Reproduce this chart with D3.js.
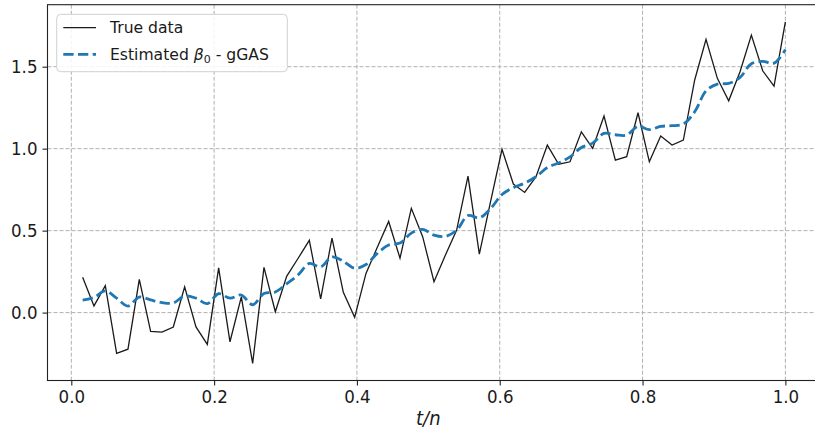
<!DOCTYPE html>
<html>
<head>
<meta charset="utf-8">
<script src="https://cdn.jsdelivr.net/npm/d3@7"></script>
<style>
  body { margin: 0; background: #fff; }
  svg { display: block; }
</style>
</head>
<body>
<svg id="chart" width="815" height="432"></svg>
<script>
// values, t = 1..63, x = t/n
const trueData = [
  0.215, 0.041, 0.164, -0.249, -0.223, 0.203, -0.115, -0.119, -0.088, 0.157,
  -0.087, -0.194, 0.273, -0.178, 0.096, -0.310, 0.276, 0.005, 0.221, 0.330,
  0.441, 0.083, 0.455, 0.124, -0.029, 0.239, 0.398, 0.556, 0.332, 0.636,
  0.463, 0.188, 0.350, 0.503, 0.833, 0.357, 0.680, 0.996, 0.784, 0.733,
  0.829, 1.022, 0.905, 0.920, 1.103, 1.002, 1.199, 0.930, 0.951, 1.219,
  0.920, 1.077, 1.022, 1.052, 1.419, 1.667, 1.429, 1.292, 1.469, 1.693,
  1.475, 1.382, 1.774
];
const estimated = [
  0.076, 0.092, 0.132, 0.088, 0.040, 0.095, 0.077, 0.061, 0.059, 0.101,
  0.088, 0.055, 0.115, 0.088, 0.107, 0.048, 0.117, 0.126, 0.175, 0.229,
  0.300, 0.279, 0.340, 0.313, 0.270, 0.293, 0.361, 0.412, 0.424, 0.485,
  0.508, 0.473, 0.465, 0.503, 0.592, 0.578, 0.635, 0.720, 0.762, 0.790,
  0.829, 0.885, 0.913, 0.950, 1.007, 1.034, 1.093, 1.085, 1.083, 1.136,
  1.116, 1.136, 1.140, 1.150, 1.225, 1.352, 1.394, 1.398, 1.434, 1.518,
  1.532, 1.522, 1.603
];
const xTicks = [0.0, 0.2, 0.4, 0.6, 0.8, 1.0];
const yTicks = [0.0, 0.5, 1.0, 1.5];
const seriesNames = ["True data", "Estimated β0 - gGAS"];

const n = trueData.length;
const tn = trueData.map((d, i) => (i + 1) / n);

const svg = d3.select("#chart");

// matplotlib style 5% margins around the data
const xExt = d3.extent(tn);
const yExt = d3.extent(trueData.concat(estimated));
const xPad = (xExt[1] - xExt[0]) * 0.05;
const yPad = (yExt[1] - yExt[0]) * 0.05;

const x = d3.scaleLinear()
  .domain([xExt[0] - xPad, xExt[1] + xPad])
  .range([47.5, 820.5]);
const y = d3.scaleLinear()
  .domain([yExt[0] - yPad, yExt[1] + yPad])
  .range([380.5, 4.7]);

const plotLeft = x.range()[0], plotRight = x.range()[1];
const plotTop = y.range()[1], plotBottom = y.range()[0];

// grid
const grid = svg.append("g");
grid.selectAll("line.gx").data(xTicks).enter()
  .append("line")
  .attr("x1", d => x(d)).attr("x2", d => x(d))
  .attr("y1", plotTop).attr("y2", plotBottom)
  .attr("stroke", "#b0b0b0").attr("stroke-width", 1)
  .attr("stroke-dasharray", "4,2");
grid.selectAll("line.gy").data(yTicks).enter()
  .append("line")
  .attr("x1", plotLeft).attr("x2", plotRight)
  .attr("y1", d => y(d)).attr("y2", d => y(d))
  .attr("stroke", "#b0b0b0").attr("stroke-width", 1)
  .attr("stroke-dasharray", "4,2");

// lines
const lineTrue = d3.line()
  .x((d, i) => x(tn[i]))
  .y(d => y(d));
const lineEst = d3.line()
  .x((d, i) => x(tn[i]))
  .y(d => y(d))
  .curve(d3.curveCatmullRom.alpha(0.5));

svg.append("path")
  .datum(trueData)
  .attr("d", lineTrue)
  .attr("fill", "none")
  .attr("stroke", "#1a1a1a")
  .attr("stroke-width", 1.3);

svg.append("path")
  .datum(estimated)
  .attr("d", lineEst)
  .attr("fill", "none")
  .attr("stroke", "#1f77b4")
  .attr("stroke-width", 2.8)
  .attr("stroke-dasharray", "10.3,4.4");

// axes
const tickFont = "'DejaVu Sans Condensed', 'DejaVu Sans', sans-serif";
const xAxis = svg.append("g")
  .attr("transform", `translate(0,${plotBottom})`)
  .call(d3.axisBottom(x).tickValues(xTicks).tickFormat(d3.format(".1f")).tickSizeOuter(0).tickSize(5).tickPadding(4));
const yAxis = svg.append("g")
  .attr("transform", `translate(${plotLeft},0)`)
  .call(d3.axisLeft(y).tickValues(yTicks).tickFormat(d3.format(".1f")).tickSizeOuter(0).tickSize(5).tickPadding(5));

[xAxis, yAxis].forEach(g => {
  g.select(".domain").remove();
  g.selectAll(".tick line").attr("stroke", "#222").attr("stroke-width", 1.1);
  g.selectAll(".tick text")
    .attr("fill", "#1a1a1a")
    .style("font-family", tickFont)
    .style("font-size", "18.5px");
});

// spines (right edge falls outside the picture)
svg.append("rect")
  .attr("x", plotLeft).attr("y", plotTop)
  .attr("width", plotRight - plotLeft).attr("height", plotBottom - plotTop)
  .attr("fill", "none")
  .attr("stroke", "#222")
  .attr("stroke-width", 1.1);

// x label
svg.append("text")
  .attr("x", (x(0) + x(1)) / 2)
  .attr("y", 425)
  .attr("text-anchor", "middle")
  .style("font-family", tickFont)
  .style("font-style", "italic")
  .style("font-size", "20px")
  .attr("fill", "#1a1a1a")
  .text("t/n");

// legend
const legend = svg.append("g");
legend.append("rect")
  .attr("x", 56.7).attr("y", 14.3)
  .attr("width", 230.6).attr("height", 57.4)
  .attr("rx", 4).attr("ry", 4)
  .attr("fill", "rgba(255,255,255,0.85)")
  .attr("stroke", "#d0d0d0")
  .attr("stroke-width", 1);

const legendRows = [
  { y: 27.7, color: "#1a1a1a", width: 1.3, dash: null },
  { y: 54.3, color: "#1f77b4", width: 2.8, dash: "10.3,4.4" }
];
legendRows.forEach((r, i) => {
  legend.append("line")
    .attr("x1", 63.3).attr("x2", 96)
    .attr("y1", r.y).attr("y2", r.y)
    .attr("stroke", r.color)
    .attr("stroke-width", r.width)
    .attr("stroke-dasharray", r.dash);
  const t = legend.append("text")
    .attr("x", 110).attr("y", r.y + 5.5)
    .style("font-family", "'DejaVu Sans', sans-serif")
    .style("font-size", "15.6px")
    .attr("fill", "#1a1a1a");
  if (i === 0) {
    t.text(seriesNames[0]);
  } else {
    t.append("tspan").text("Estimated ");
    t.append("tspan").style("font-style", "italic").text("β");
    t.append("tspan").attr("dy", 3.5).style("font-size", "11px").text("0");
    t.append("tspan").attr("dy", -3.5).text(" - gGAS");
  }
});
</script>
</body>
</html>
